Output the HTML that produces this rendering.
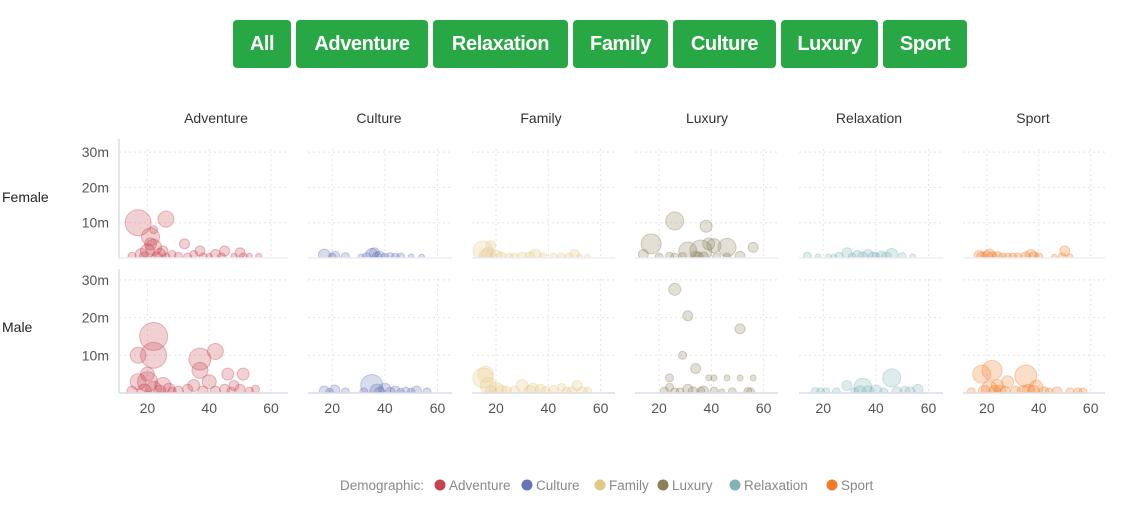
<!DOCTYPE html>
<html><head><meta charset="utf-8">
<style>
body{margin:0;background:#fff;width:1129px;height:523px;overflow:hidden;font-family:"Liberation Sans",sans-serif;}
.btn{position:absolute;top:20px;height:48px;background:#28a745;color:#fff;border-radius:4px;font-weight:bold;font-size:20px;letter-spacing:-0.4px;display:flex;align-items:center;justify-content:center;cursor:pointer}
svg{position:absolute;left:0;top:0}
</style></head><body>
<div class="btn" style="left:233px;width:58px">All</div>
<div class="btn" style="left:296px;width:132px">Adventure</div>
<div class="btn" style="left:433px;width:135px">Relaxation</div>
<div class="btn" style="left:573px;width:95px">Family</div>
<div class="btn" style="left:673px;width:103px">Culture</div>
<div class="btn" style="left:781px;width:97px">Luxury</div>
<div class="btn" style="left:883px;width:84px">Sport</div>
<svg id="chart" width="1129" height="523"></svg>
<script>
const categories=["Adventure","Culture","Family","Luxury","Relaxation","Sport"];
const colors=["#c9434f","#6574b9","#e3c985","#8c7f5a","#7fb3b8","#f47a25"];
const rows=["Female","Male"];
const xTicks=[20,40,60];
const yTicks=[10,20,30];
const yTickLabels=["10m","20m","30m"];
// [age, value(m), size]
const advF=[[17,10,13],[26,11,8],[21,6,9],[22,3,8],[20,2,7],[24,1,6],[18,1,6],[32,4,5],[37,2,5],[42,1,5],[45,2,5],[50,1.5,5],[56,0.5,3],[28,1,4],[35,1,4],[15,0.5,4],[30,0.5,4],[40,0.5,3],[48,0.5,3],[53,0.5,3],[22,8,4],[19,0.3,5],[23,0.3,5],[26,0.3,4],[33,0.3,4],[38,0.3,4],[44,0.3,4],[51,0.3,4],[21,4,6],[25,2,5]];
const advM=[[22,15,14],[22,10,13],[17,10,8],[20,3,10],[17,3,8],[25,2,8],[22,1,8],[37,9,11],[42,11,8],[37,6,8],[46,5,6],[51,5,6],[40,3,7],[35,2,6],[45,1,5],[55,1,4],[30,0.5,5],[33,1,5],[50,1,5],[28,0.5,4],[48,2,5],[19,0.5,7],[24,0.5,6],[27,1,6],[20,5,7],[38,0.5,5],[42,0.5,5],[47,0.5,4],[53,0.5,4],[15,0.5,5]];
const culF=[[17,0.8,6],[21,0.5,5],[25,0.4,4],[31,0.3,3],[35,1,6],[38,0.5,5],[42,0.4,4],[46,0.3,4],[50,0.3,3],[54,0.2,3],[33,0.4,4],[20,0.2,4],[37,0.2,5],[40,0.2,4],[44,0.2,4],[36,1.5,5]];
const culM=[[17,0.5,5],[21,0.8,5],[25,0.3,4],[35,2,11],[40,1,6],[44,0.5,5],[48,0.5,4],[52,0.5,5],[56,0.3,4],[32,0.3,4],[19,0.2,4],[37,0.5,7],[38,0.2,5],[42,0.2,5],[46,0.2,4],[50,0.2,4]];
const famF=[[15,2,10],[17,1,7],[20,0.5,6],[25,0.3,4],[30,0.3,5],[35,0.8,6],[38,0.3,4],[42,0.2,4],[48,0.3,4],[52,0.2,3],[55,0.2,3],[16,0.3,7],[22,0.3,5],[33,0.3,5],[45,0.3,4],[50,1,5],[27,0.3,4],[18,3.5,5]];
const famM=[[15,4,10],[17,2,8],[20,1,7],[24,0.5,5],[30,2,6],[34,1,6],[37,1,5],[42,0.7,5],[47,0.5,4],[51,2,5],[55,0.5,4],[27,0.5,5],[16,5,8],[22,0.4,6],[33,0.4,6],[39,0.4,5],[45,1.5,4],[49,0.3,5],[53,0.3,5],[18,0.3,6]];
const luxF=[[26,10.5,9],[17,4,10],[38,9,6],[14,1,5],[31,2,9],[36,2,11],[41,3.5,7],[46,3,9],[56,3,5],[24,0.5,4],[34,0.5,5],[46,0.3,4],[51,0.5,5],[29,0.4,4],[39,4,6],[35,0.3,5],[37,0.3,5],[20,0.3,4],[42,0.3,4],[26,0.3,4]];
const luxM=[[26,27.5,6],[31,20.5,5],[51,17,5],[29,10,4],[34,6.5,5],[24,4,4],[39,4,3],[41,4,3],[46,4,3],[51,4,3],[56,4,3],[22,0.5,4],[31,1,5],[37,0.5,5],[41,0.5,4],[48,0.3,4],[54,0.4,4],[28,0.3,4],[44,0.3,3],[24,1.5,4],[33,0.3,5],[36,0.5,4],[55,0.3,4],[26,0.3,4]];
const relF=[[14,0.5,4],[18,0.3,3],[22,0.3,3],[26,0.5,4],[29,1.5,5],[33,0.7,5],[37,1,5],[42,0.5,5],[46,1,6],[50,0.4,4],[54,0.3,3],[24,0.2,3],[40,0.4,4],[35,0.3,5],[39,0.3,5],[44,0.3,5],[31,0.3,4]];
const relM=[[17,0.4,4],[21,0.3,4],[25,0.3,4],[29,2,5],[35,1.5,9],[40,0.5,6],[46,4,9],[51,0.4,5],[56,1,5],[32,0.3,4],[43,0.3,4],[34,0.3,6],[37,0.3,6],[48,0.3,5],[53,0.3,5],[19,0.3,4]];
const spoF=[[17,0.7,5],[21,0.8,6],[24,0.4,5],[28,0.3,4],[32,0.3,4],[37,0.7,6],[40,0.3,4],[46,0.2,3],[50,2,5],[52,0.3,3],[26,0.3,4],[18,0.3,5],[20,0.3,6],[22,0.3,5],[35,0.3,5],[38,0.3,5],[49,0.3,4],[30,0.3,4]];
const spoM=[[22,6,10],[18,5,9],[28,3,6],[35,4.5,11],[39,1.5,7],[21,1,8],[25,0.5,6],[31,0.5,5],[42,0.3,5],[47,0.3,5],[52,0.3,4],[57,0.3,4],[14,0.3,4],[36,0.7,6],[19,0.4,6],[23,0.4,6],[27,0.4,5],[34,0.4,6],[38,0.4,6],[44,0.3,4],[55,0.3,4],[24,2,6]];
const series=[[advF,advM],[culF,culM],[famF,famM],[luxF,luxM],[relF,relM],[spoF,spoM]];

const NS="http://www.w3.org/2000/svg";
const svg=document.getElementById('chart');
function mk(t,a,p){const e=document.createElementNS(NS,t);for(const k in a)e.setAttribute(k,a[k]);(p||svg).appendChild(e);return e;}
const panelX=[[119,288],[308,452],[472,615],[635,778],[799,943],[963,1105]];
const titleX=[216,379,541,707,869,1033];
const rowY=[{top:139,base:258,per:3.53},{top:269,base:393,per:3.77}];
const ageMin=10.8,ageMax=65.5;
function xScale(p,a){const [l,r]=panelX[p];return l+(a-ageMin)/(ageMax-ageMin)*(r-l);}
function yScale(row,v){return rowY[row].base-v*rowY[row].per;}
function rScale(s){return s;}

categories.forEach((c,p)=>{
  const [l,r]=panelX[p];
  const t=mk('text',{x:titleX[p],y:123,'text-anchor':'middle','font-size':14,fill:'#333'});
  t.textContent=c;
  
  
  rows.forEach((rw,ri)=>{
    const g=mk('g',{});
    
    
    const R=rowY[ri];
    yTicks.forEach(v=>{mk('line',{x1:l,x2:r,y1:yScale(ri,v),y2:yScale(ri,v),stroke:'#e4e4e8','stroke-dasharray':'2,3'},g);});
    xTicks.forEach(a=>{mk('line',{x1:xScale(p,a),x2:xScale(p,a),y1:R.top+10,y2:R.base,stroke:'#e4e4e8','stroke-dasharray':'2,3'},g);});
    const cid='clip'+p+'_'+ri;
    const cp=mk('clipPath',{id:cid},g);mk('rect',{x:l,y:R.top-20,width:r-l,height:R.base-R.top+20},cp);
    const bg=mk('g',{'clip-path':'url(#'+cid+')'},g);
    series[p][ri].forEach(d=>{
      const ci=mk('circle',{cx:xScale(p,d[0]),cy:yScale(ri,d[1]),r:rScale(d[2]),fill:colors[p],'fill-opacity':0.25,stroke:colors[p],'stroke-opacity':0.35});
      bg.appendChild(ci);
      
      
    });
    mk('line',{x1:l,x2:r,y1:R.base,y2:R.base,stroke:ri==1?'#dcdce8':'#eeeef2','stroke-width':1.5},g);
    if(p==0){
      mk('line',{x1:l,x2:l,y1:R.top,y2:R.base,stroke:'#dcdce8','stroke-width':1.5},g);
      yTicks.forEach((v,i)=>{const tt=mk('text',{x:109,y:yScale(ri,v)+5,'text-anchor':'end','font-size':14,fill:'#555'},g);tt.textContent=yTickLabels[i];});
    }
    if(ri==1){xTicks.forEach(a=>{const tt=mk('text',{x:xScale(p,a),y:413,'text-anchor':'middle','font-size':14,fill:'#555'},g);tt.textContent=a;});}
  });
});
rows.forEach((rw,ri)=>{
  const t=mk('text',{x:2,y:ri==0?202:332,'font-size':14,fill:'#222'});
  t.textContent=rw;
  
  
});
// legend
const lg=mk('g',{});


const lt=mk('text',{x:340,y:490,'font-size':13.5,fill:'#888'},lg);lt.textContent='Demographic:';
const legX=[440,527,600,663,735,832];
categories.forEach((c,i)=>{
  const e=mk('g',{},lg);
  
  
  mk('circle',{cx:legX[i],cy:485,r:5.5,fill:colors[i]},e);
  const tx=mk('text',{x:legX[i]+9,y:490,'font-size':13.5,fill:'#888'},e);tx.textContent=c;
});
</script>
</body></html>
